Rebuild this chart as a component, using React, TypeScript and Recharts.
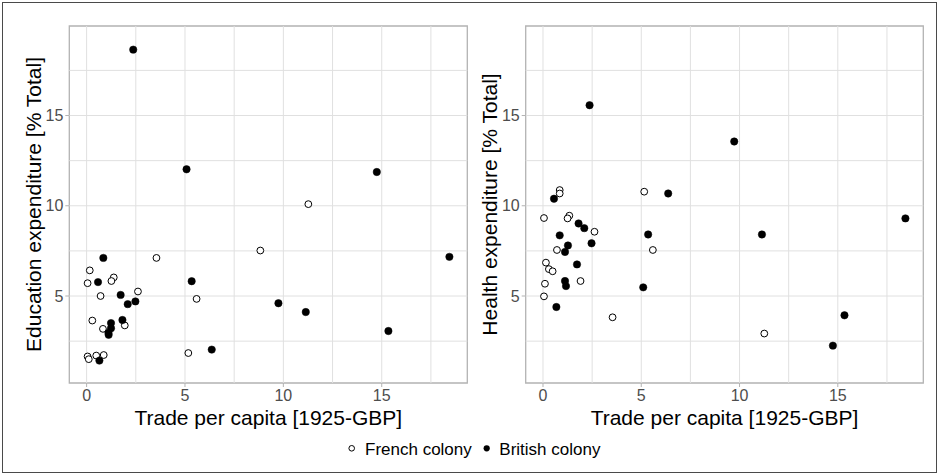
import React from 'react';
import { ScatterChart, Scatter, XAxis, YAxis, ReferenceLine, ReferenceArea } from 'recharts';

const FONT = '"Liberation Sans", Arial, Helvetica, sans-serif';

// Trade per capita (x) and expenditure share (y)
const eduFrenchTrade = [11.27, 8.83, 3.55, 0.16, 0.05, 1.38, 1.26, 0.71, 2.61, 5.59, 0.29, 0.83, 1.94, 0.05, 0.11, 0.49, 0.87, 5.17];
const eduFrenchShare = [10.09, 7.52, 7.11, 6.42, 5.71, 6.03, 5.83, 5.0, 5.25, 4.84, 3.64, 3.18, 3.37, 1.65, 1.5, 1.7, 1.73, 1.84];

const eduBritishTrade = [2.37, 5.08, 14.75, 18.44, 0.85, 0.58, 5.34, 1.73, 2.09, 2.48, 9.75, 11.14, 15.34, 6.36, 1.82, 1.24, 1.24, 1.11, 1.12, 0.65];
const eduBritishShare = [18.65, 12.02, 11.87, 7.17, 7.11, 5.77, 5.82, 5.06, 4.55, 4.7, 4.6, 4.11, 3.06, 2.03, 3.67, 3.5, 3.21, 2.96, 2.85, 1.42];

const healthFrenchTrade = [5.15, 0.85, 0.85, 0.05, 1.34, 1.25, 2.62, 0.71, 5.59, 0.15, 0.3, 0.49, 0.1, 1.91, 0.05, 3.54, 11.26];
const healthFrenchShare = [10.78, 10.87, 10.68, 9.32, 9.45, 9.3, 8.56, 7.55, 7.55, 6.85, 6.49, 6.37, 5.68, 5.83, 4.98, 3.82, 2.92];

const healthBritishTrade = [2.37, 9.73, 6.37, 18.44, 0.56, 1.81, 2.1, 0.85, 5.35, 11.14, 2.47, 1.27, 1.12, 1.73, 1.12, 1.17, 5.1, 0.68, 15.34, 14.75];
const healthBritishShare = [15.57, 13.56, 10.68, 9.3, 10.39, 9.02, 8.76, 8.36, 8.41, 8.41, 7.92, 7.8, 7.44, 6.75, 5.83, 5.55, 5.48, 4.39, 3.93, 2.25];

const xTicks = [0, 5, 10, 15];
const yTicks = [5, 10, 15];
const xGrid = [0, 2.5, 5, 7.5, 10, 12.5, 15, 17.5];
const yGrid = [2.5, 5, 7.5, 10, 12.5, 15, 17.5];
const X_DOMAIN: [number, number] = [-0.88, 19.35];
const Y_DOMAIN: [number, number] = [0.18, 19.96];

const xTitle = 'Trade per capita [1925-GBP]';
const legendLabels = ['French colony', 'British colony'];

const toPoints = (xs: number[], ys: number[]) => xs.map((x, i) => ({ x, y: ys[i] }));

const OpenDot = (p: any) => <circle cx={p.cx} cy={p.cy} r={3.4} fill="#ffffff" stroke="#000000" strokeWidth={1} />;
const FilledDot = (p: any) => <circle cx={p.cx} cy={p.cy} r={3.7} fill="#000000" stroke="#000000" strokeWidth={0.5} />;

function Panel(props: {
  width: number;
  marginLeft: number;
  marginRight: number;
  yTitle: string;
  titleX: number;
  french: { x: number; y: number }[];
  british: { x: number; y: number }[];
}) {
  const { width, marginLeft, marginRight, yTitle, titleX, french, british } = props;
  const tickStyle = { fill: '#4d4d4d', fontSize: 16, fontFamily: FONT };
  return (
    <ScatterChart width={width} height={475} margin={{ top: 26, right: marginRight, bottom: 62, left: marginLeft }}>
      {xGrid.map((v) => (
        <ReferenceLine key={'gx' + v} x={v} stroke="#e0e0e0" strokeWidth={1} />
      ))}
      {yGrid.map((v) => (
        <ReferenceLine key={'gy' + v} y={v} stroke="#e0e0e0" strokeWidth={1} />
      ))}
      <XAxis
        type="number"
        dataKey="x"
        domain={X_DOMAIN}
        ticks={xTicks}
        interval={0}
        allowDataOverflow
        height={30}
        tickSize={4}
        tickMargin={3}
        axisLine={false}
        tickLine={{ stroke: '#b3b3b3' }}
        tick={tickStyle}
        label={{
          content: (lp: any) => {
            const vb = lp.viewBox || {};
            return (
              <text x={vb.x + vb.width / 2} y={424.5} textAnchor="middle" fontSize={21} fontFamily={FONT} fill="#000000">
                {xTitle}
              </text>
            );
          },
        }}
      />
      <YAxis
        type="number"
        dataKey="y"
        domain={Y_DOMAIN}
        ticks={yTicks}
        interval={0}
        allowDataOverflow
        width={40}
        tickSize={4}
        tickMargin={2}
        axisLine={false}
        tickLine={{ stroke: '#b3b3b3' }}
        tick={tickStyle}
        label={{
          content: (lp: any) => {
            const vb = lp.viewBox || {};
            const cy = vb.y + vb.height / 2;
            return (
              <text
                x={titleX}
                y={cy}
                transform={`rotate(-90 ${titleX} ${cy})`}
                textAnchor="middle"
                dominantBaseline="central"
                fontSize={21}
                fontFamily={FONT}
                fill="#000000"
              >
                {yTitle}
              </text>
            );
          },
        }}
      />
      <Scatter data={french} shape={OpenDot} isAnimationActive={false} />
      <Scatter data={british} shape={FilledDot} isAnimationActive={false} />
      <ReferenceArea
        x1={X_DOMAIN[0]}
        x2={X_DOMAIN[1]}
        y1={Y_DOMAIN[0]}
        y2={Y_DOMAIN[1]}
        fill="none"
        fillOpacity={0}
        stroke="#b3b3b3"
        strokeWidth={1.3}
      />
    </ScatterChart>
  );
}

export default function App() {
  return (
    <div style={{ position: 'absolute', left: 0, top: 0, width: 939, height: 475, background: '#ffffff', overflow: 'hidden' }}>
      <div style={{ position: 'absolute', left: 0, top: 0 }}>
        <Panel
          width={470}
          marginLeft={29.3}
          marginRight={2.7}
          yTitle="Education expenditure [% Total]"
          titleX={33}
          french={toPoints(eduFrenchTrade, eduFrenchShare)}
          british={toPoints(eduBritishTrade, eduBritishShare)}
        />
      </div>
      <div style={{ position: 'absolute', left: 470, top: 0 }}>
        <Panel
          width={469}
          marginLeft={15.7}
          marginRight={15.7}
          yTitle="Health expenditure [% Total]"
          titleX={19.4}
          french={toPoints(healthFrenchTrade, healthFrenchShare)}
          british={toPoints(healthBritishTrade, healthBritishShare)}
        />
      </div>
      <svg style={{ position: 'absolute', left: 0, top: 0 }} width={939} height={475}>
        <circle cx={351.7} cy={448.3} r={2.8} fill="#ffffff" stroke="#000000" strokeWidth={1} />
        <text x={365} y={454.5} fontSize={17} fontFamily={FONT} fill="#000000">
          {legendLabels[0]}
        </text>
        <circle cx={486.7} cy={448.3} r={3.1} fill="#000000" />
        <text x={499.3} y={454.5} fontSize={17} fontFamily={FONT} fill="#000000">
          {legendLabels[1]}
        </text>
      </svg>
      <div
        style={{
          position: 'absolute',
          left: 2,
          top: 2,
          width: 935,
          height: 471,
          border: '1.5px solid #4a4a4a',
          boxSizing: 'border-box',
          pointerEvents: 'none',
        }}
      />
    </div>
  );
}
